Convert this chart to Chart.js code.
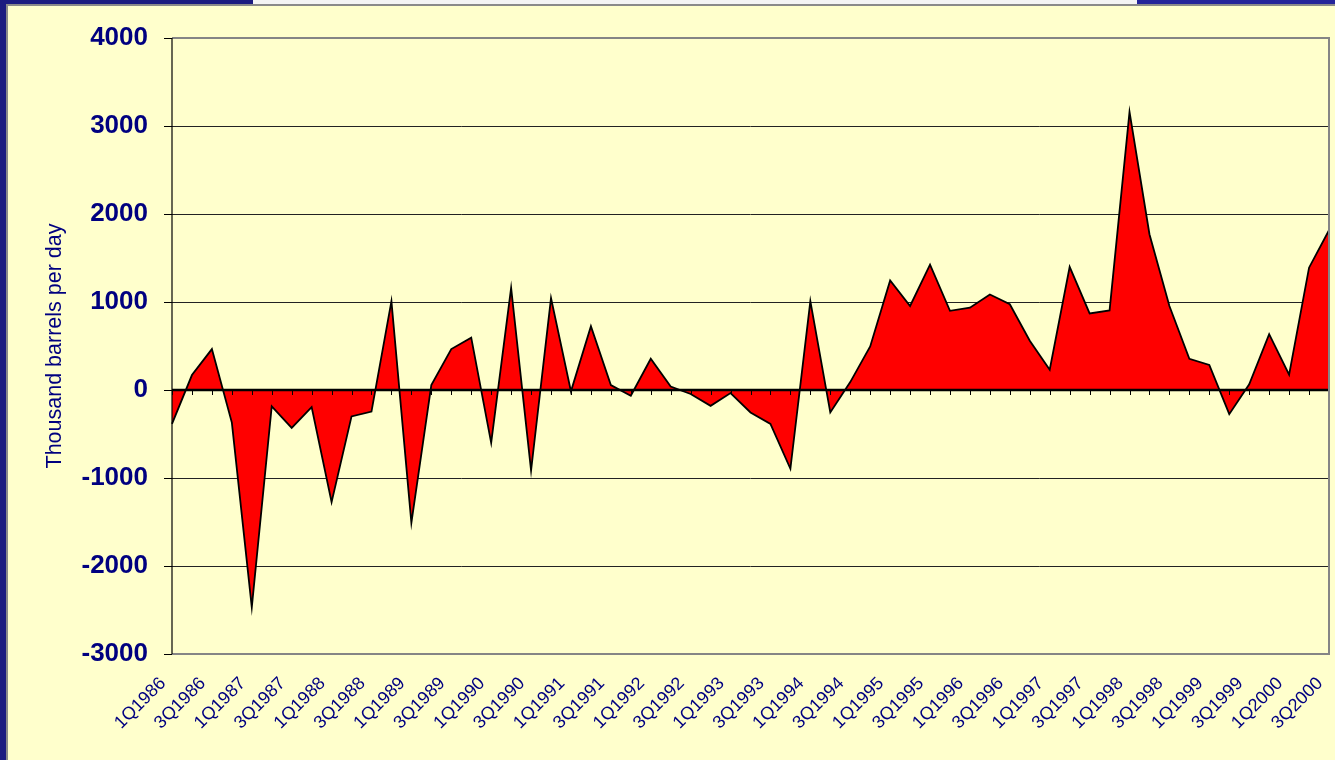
<!DOCTYPE html>
<html>
<head>
<meta charset="utf-8">
<script src="https://cdn.jsdelivr.net/npm/chart.js@4/dist/chart.umd.min.js"></script>
<style>
  html, body { margin: 0; padding: 0; width: 1335px; height: 760px; overflow: hidden; background: #FFFFCC; }
  #frameLeft { position: absolute; left: 0; top: 0; width: 6px; height: 760px; background: #1C1C80; }
  #frameLeftEdge { position: absolute; left: 6px; top: 4px; width: 2px; height: 756px; background: #8a8a8a; }
  #frameTopA { position: absolute; left: 0; top: 0; width: 253px; height: 4px; background: #1C1C80; }
  #frameTopB { position: absolute; left: 253px; top: 0; width: 884px; height: 4px; background: #f4f4f4; }
  #frameTopC { position: absolute; left: 1137px; top: 0; width: 198px; height: 4px; background: #24249a; }
  #frameTopEdge { position: absolute; left: 6px; top: 4px; width: 1329px; height: 2px; background: #8a8a8a; }
  #c { position: absolute; left: 0; top: 0; }
</style>
</head>
<body>
<div id="frameLeft"></div>
<div id="frameTopA"></div>
<div id="frameTopB"></div>
<div id="frameTopC"></div>
<div id="frameTopEdge"></div>
<div id="frameLeftEdge"></div>
<canvas id="c" width="1335" height="760"></canvas>
<script>
// Quarters 1Q1986 .. 3Q2000
const years = [1986,1987,1988,1989,1990,1991,1992,1993,1994,1995,1996,1997,1998,1999,2000];
const quarterLabels = [];
for (const y of years) for (let q = 1; q <= 4; q++) quarterLabels.push(q + 'Q' + y);
const categories = quarterLabels.slice(0, 59);

// Thousand barrels per day
const values = [
  -385, 170, 465, -370,
  -2470, -185, -430, -195,
  -1275, -300, -245, 1010,
  -1510, 55, 465, 595,
  -600, 1160, -915, 1045,
  -15, 725, 55, -65,
  355, 40, -45, -180,
  -35, -255, -385, -895,
  1010, -255, 90, 495,
  1245, 955, 1425, 900,
  935, 1085, 975, 560,
  230, 1400, 870, 905,
  3160, 1770, 955, 355,
  285, -275, 65, 635,
  175, 1390, 1815
];

const yMin = -3000, yMax = 4000, yStep = 1000;
const yTitle = 'Thousand barrels per day';

const navy = '#000080';
const fontFamily = "'Liberation Sans', Arial, sans-serif";

const overlay = {
  id: 'overlay',
  afterDatasetsDraw(chart) {
    const { ctx, chartArea: a, scales } = chart;
    const x = scales.x, y = scales.y;
    const y0 = y.getPixelForValue(0);
    ctx.save();
    // category axis at zero with tick marks
    ctx.strokeStyle = '#000';
    ctx.lineWidth = 1;
    ctx.beginPath();
    for (let i = 0; i < categories.length; i++) {
      const px = Math.round(x.getPixelForValue(i)) + 0.5;
      ctx.moveTo(px, y0);
      ctx.lineTo(px, y0 + 5);
    }
    ctx.stroke();
    ctx.lineWidth = 2.5;
    ctx.beginPath();
    ctx.moveTo(a.left, y0);
    ctx.lineTo(a.right, y0);
    ctx.stroke();
    // plot area border (gray)
    ctx.strokeStyle = '#858585';
    ctx.lineWidth = 2;
    ctx.beginPath();
    ctx.moveTo(a.left, a.top);
    ctx.lineTo(a.right, a.top);
    ctx.lineTo(a.right, a.bottom);
    ctx.lineTo(a.left, a.bottom);
    ctx.stroke();
    // value axis line
    ctx.strokeStyle = '#000';
    ctx.lineWidth = 1.2;
    ctx.beginPath();
    ctx.moveTo(a.left, a.top);
    ctx.lineTo(a.left, a.bottom);
    ctx.stroke();
    ctx.restore();
  }
};

new Chart(document.getElementById('c'), {
  type: 'line',
  data: {
    labels: categories,
    datasets: [{
      data: values,
      fill: 'origin',
      backgroundColor: '#FF0000',
      borderColor: '#000000',
      borderWidth: 1.8,
      pointRadius: 0,
      tension: 0
    }]
  },
  options: {
    responsive: false,
    animation: false,
    devicePixelRatio: 1,
    layout: { padding: { left: 8, right: 6, top: 38, bottom: 0 } },
    plugins: { legend: { display: false }, tooltip: { enabled: false } },
    scales: {
      x: {
        offset: false,
        grid: { display: false },
        border: { display: false },
        ticks: {
          autoSkip: false,
          minRotation: 45,
          maxRotation: 45,
          padding: 11,
          labelOffset: -9,
          color: navy,
          font: { family: fontFamily, size: 18 },
          callback: function(v, i) { return i % 2 === 0 ? categories[i] : ''; }
        },
        afterFit: function(s) { s.height = 106; s.paddingLeft = 0; s.paddingRight = 0; }
      },
      y: {
        min: yMin,
        max: yMax,
        ticks: {
          stepSize: yStep,
          padding: 16,
          color: navy,
          font: { family: fontFamily, size: 26, weight: 'bold' },
          callback: function(v) { return String(v); }
        },
        grid: {
          color: function(c) { return (c.tick && (c.tick.value === yMax || c.tick.value === yMin)) ? '#858585' : '#222'; },
          lineWidth: 1,
          tickColor: '#000',
          tickLength: 8
        },
        border: { display: false },
        title: {
          display: true,
          text: yTitle,
          color: navy,
          font: { family: fontFamily, size: 21.5 },
          padding: { top: 34, bottom: 0 }
        },
        afterFit: function(s) { s.width = 164; }
      }
    }
  },
  plugins: [overlay]
});
</script>
</body>
</html>
